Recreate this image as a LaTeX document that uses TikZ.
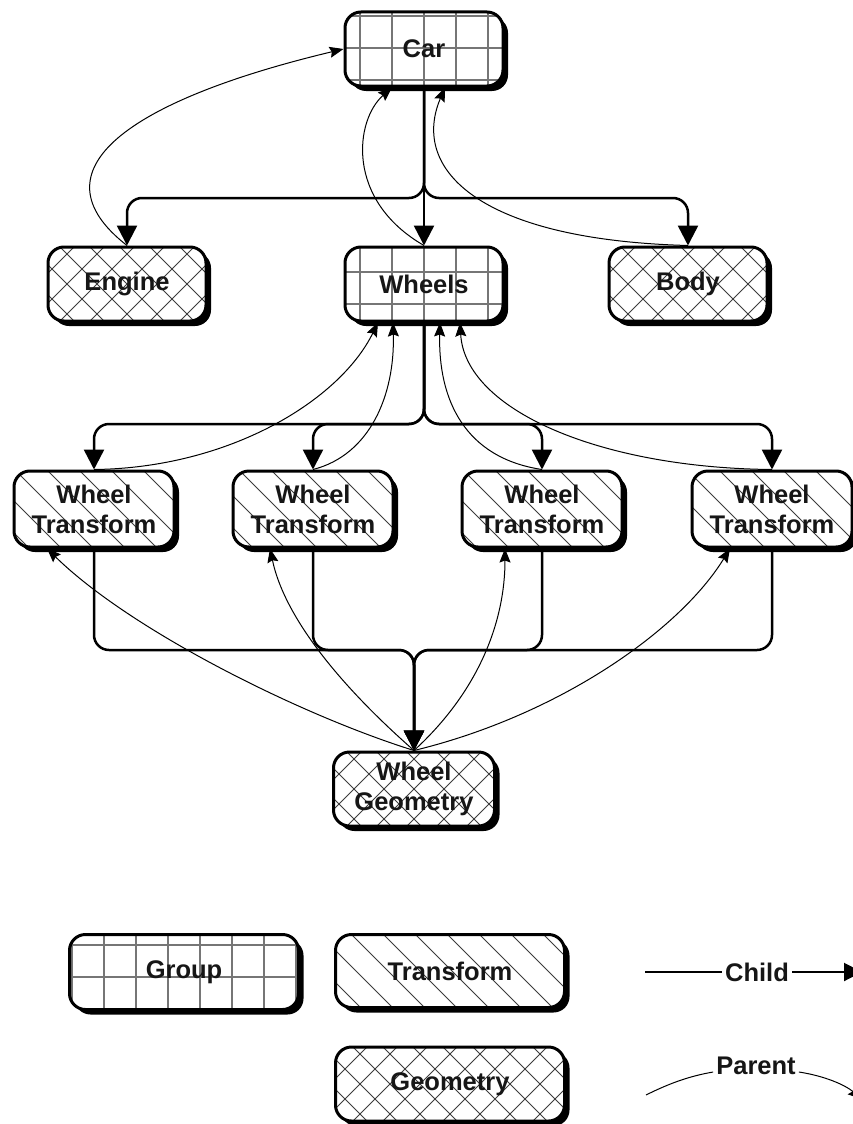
\documentclass[tikz,border=0pt]{standalone}
\usepackage{fontspec}
\setmainfont{Liberation Sans}
\usetikzlibrary{arrows.meta,shadows}
\definecolor{ink}{HTML}{161616}
\definecolor{hatchc}{HTML}{3C3C3C}
\definecolor{gridc}{HTML}{767676}
\tikzset{
  box/.style={rectangle, rounded corners=16pt, draw=black, line width=3pt,
    minimum width=158pt, minimum height=74pt, align=center, inner sep=0pt,
    font=\fontsize{25.5}{30}\selectfont\bfseries, text=ink, fill=white,
    drop shadow={shadow xshift=5pt, shadow yshift=-5pt, opacity=1, fill=black}},
  gridline/.style={draw=gridc, line width=1.1pt},
  hatchline/.style={draw=hatchc, line width=0.8pt},
  % grid fill: #1 = x offset, #2 = y offset (pixels, downwards) of one grid line
  groupnode/.style 2 args={box, path picture={
    \foreach \k in {-8,...,8}
      \draw[gridline] ([xshift=#1pt+\k*32pt]path picture bounding box.center) ++(0,-60) -- ++(0,120);
    \foreach \k in {-3,...,3}
      \draw[gridline] ([yshift=-#2pt-\k*32pt]path picture bounding box.center) ++(-130,0) -- ++(260,0);
  }},
  % single diagonal hatching, lines running top-left to bottom-right
  transformnode/.style={box, path picture={
    \foreach \k in {-7,...,7}
      \draw[hatchline] ([xshift=#1pt+\k*32pt]path picture bounding box.center) ++(-100,-100) -- ++(200,200);
  }},
  % cross hatching
  geometrynode/.style={box, path picture={
    \foreach \k in {-8,...,8}{
      \draw[hatchline] ([xshift=#1pt+\k*30pt]path picture bounding box.center) ++(-100,-100) -- ++(200,200);
      \draw[hatchline] ([xshift=#1pt+\k*30pt]path picture bounding box.center) ++(100,-100) -- ++(-200,200);
    }
  }},
  child/.style={draw=black, line width=2.5pt, rounded corners=15pt,
    -{Triangle[length=20pt,width=20pt]}},
  parent/.style={draw=black, line width=1pt,
    -{Stealth[length=14pt,width=11pt,inset=2pt]}},
  legendtext/.style={font=\fontsize{25.5}{30}\selectfont\bfseries, text=ink, inner sep=3pt},
}
\begin{document}
\begin{tikzpicture}[x=1pt, y=-1pt]
\useasboundingbox (0,0) rectangle (852,1124);

% scene graph nodes
\node[groupnode={0}{-1}] (car) at (424,49) {Car};
\node[geometrynode=0] (engine) at (127,284) {Engine};
\node[groupnode={0}{-12}] (wheels) at (424,284) {Wheels};
\node[geometrynode=0] (body) at (688,284) {Body};
\node[transformnode=-8, minimum width=160pt, minimum height=76pt] (t1) at (94,509) {Wheel\\Transform};
\node[transformnode=-3, minimum width=160pt, minimum height=76pt] (t2) at (313,509) {Wheel\\Transform};
\node[transformnode=-8, minimum width=160pt, minimum height=76pt] (t3) at (542,509) {Wheel\\Transform};
\node[transformnode=-14, minimum width=160pt, minimum height=76pt] (t4) at (772,509) {Wheel\\Transform};
\node[geometrynode=0, minimum width=161pt, minimum height=74pt] (geom) at (414,789) {Wheel\\Geometry};

% branching points of the child links
\coordinate (bus1) at (424,198);
\coordinate (bus2) at (424,424);
\coordinate (bus3) at (414,650);

% child links
\draw[child] (car.south) -- (bus1) -| (engine.north);
\draw[child] (car.south) -- (bus1) -| (body.north);
\draw[child] (car.south) -- (wheels.north);
\draw[child] (wheels.south) -- (bus2) -| (t1.north);
\draw[child] (wheels.south) -- (bus2) -| (t2.north);
\draw[child] (wheels.south) -- (bus2) -| (t3.north);
\draw[child] (wheels.south) -- (bus2) -| (t4.north);
\draw[child] (t1.south) |- (bus3) -- (geom.north);
\draw[child] (t2.south) |- (bus3) -- (geom.north);
\draw[child] (t3.south) |- (bus3) -- (geom.north);
\draw[child] (t4.south) |- (bus3) -- (geom.north);

% parent links
\draw[parent] (engine.north) .. controls (30,170) and (130,100) .. (car.west);
\draw[parent] (wheels.north) .. controls (345,200) and (355,120) .. ([xshift=-32pt]car.south);
\draw[parent] (body.north) .. controls (480,240) and (410,170) .. ([xshift=21pt]car.south);
\draw[parent] (t1.north) .. controls (230,468) and (340,400) .. ([xshift=-46pt]wheels.south);
\draw[parent] (t2.north) .. controls (370,455) and (395,395) .. ([xshift=-31pt]wheels.south);
\draw[parent] (t3.north) .. controls (465,458) and (438,400) .. ([xshift=16pt]wheels.south);
\draw[parent] (t4.north) .. controls (600,468) and (465,410) .. ([xshift=36pt]wheels.south);
\draw[parent] (geom.north) .. controls (300,715) and (130,630) .. ([xshift=-47pt]t1.south);
\draw[parent] (geom.north) .. controls (345,690) and (285,620) .. ([xshift=-43pt]t2.south);
\draw[parent] (geom.north) .. controls (480,690) and (505,620) .. ([xshift=-37pt]t3.south);
\draw[parent] (geom.north) .. controls (560,715) and (680,630) .. ([xshift=-42pt]t4.south);

% legend
\node[groupnode={16}{-27}, minimum width=229pt, minimum height=75pt] (lgroup) at (184,972) {Group};
\node[transformnode=2, minimum width=229pt, minimum height=73pt] (ltransform) at (450,971) {Transform};
\node[geometrynode=0, minimum width=229pt, minimum height=74pt] (lgeometry) at (450,1084) {Geometry};

\node[legendtext] (childlbl) at (757,972) {Child};
\coordinate (childA) at (645,972);
\coordinate (childB) at (862,972);
\draw[line width=2pt] (childA) -- (childlbl.west);
\draw[line width=2pt, -{Triangle[length=18pt,width=18pt]}] (childlbl.east) -- (childB);

\node[legendtext] (parentlbl) at (756,1066) {Parent};
\coordinate (parentA) at (646,1095);
\coordinate (parentB) at (862,1099);
\draw[line width=1pt] (parentA) .. controls (670,1083) and (690,1076) .. ([yshift=-6pt]parentlbl.west);
\draw[parent] ([yshift=-6pt]parentlbl.east) .. controls (825,1076) and (845,1085) .. (parentB);
\end{tikzpicture}
\end{document}
